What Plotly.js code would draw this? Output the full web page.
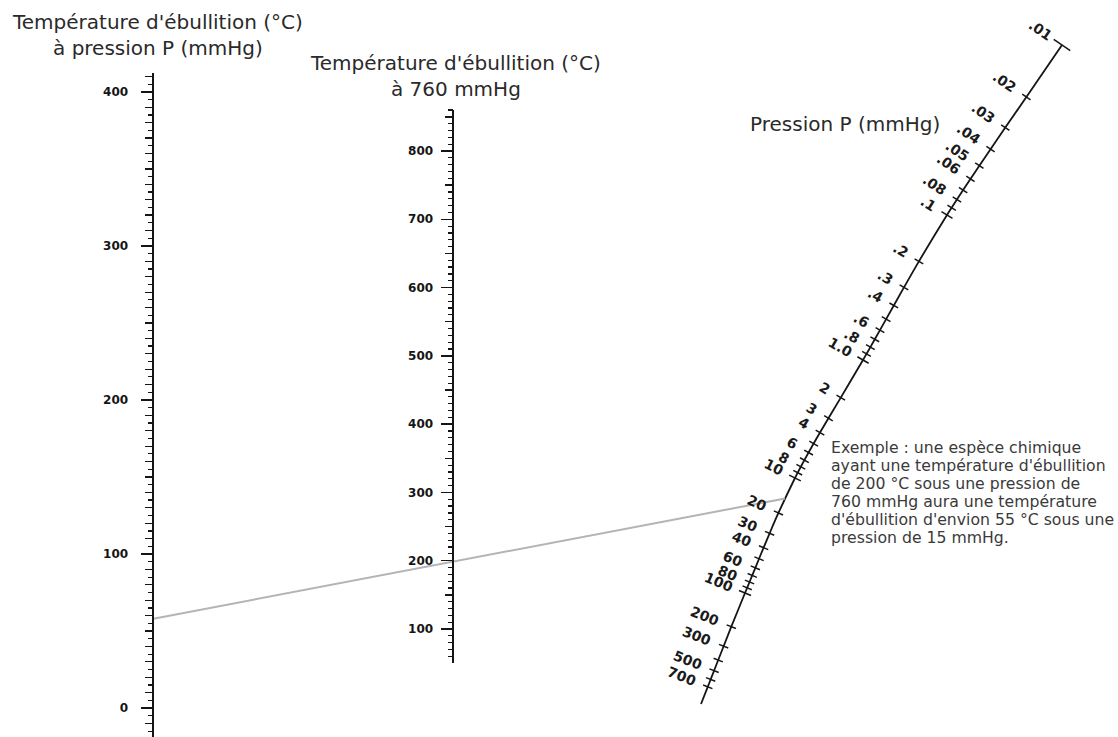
<!DOCTYPE html>
<html><head><meta charset="utf-8">
<script src="https://cdn.plot.ly/plotly-3.0.1.min.js"></script>
<style>html,body{margin:0;padding:0;background:#fff;}#chart{width:1118px;height:737px;}</style>
</head><body><div id="chart"></div>
<script>
// ---------------- DATA ----------------
const leftScaleLabels = [0, 100, 200, 300, 400];            // T at pressure P (°C)
const middleScaleLabels = [100, 200, 300, 400, 500, 600, 700, 800]; // T at 760 mmHg (°C)
const pressureTicks = [0.01,0.02,0.03,0.04,0.05,0.06,0.07,0.08,0.09,
  0.1,0.2,0.3,0.4,0.5,0.6,0.7,0.8,0.9,
  1,2,3,4,5,6,7,8,9,
  10,20,30,40,50,60,70,80,90,
  100,200,300,400,500,600,700];
const pressureDecades = [0.1, 1, 10, 100];
const pressureLabelValues = [0.01,0.02,0.03,0.04,0.05,0.06,0.08,0.1,0.2,0.3,0.4,0.6,0.8,1,2,3,4,6,8,10,20,30,40,60,80,100,200,300,500,700];
const pressureLabelTexts  = [".01",".02",".03",".04",".05",".06",".08",".1",".2",".3",".4",".6",".8","1.0","2","3","4","6","8","10","20","30","40","60","80","100","200","300","500","700"];
const exampleTempAtP = 58;      // °C read on left scale
const exampleTempAt760 = 200;   // °C on middle scale
const examplePressure = 15;     // mmHg
const titleLeft = "Température d'ébullition (°C)<br>à pression P (mmHg)";
const titleMiddle = "Température d'ébullition (°C)<br>à 760 mmHg";
const titlePressure = "Pression P (mmHg)";
const exampleLines = [
  "Exemple : une espèce chimique",
  "ayant une température d'ébullition",
  "de 200 °C sous une pression de",
  "760 mmHg aura une température",
  "d'ébullition d'envion 55 °C sous une",
  "pression de 15 mmHg."
];

// ---------------- GEOMETRY / STYLE ----------------
const W = 1118, H = 737;
const leftAxisX = 152.5, middleAxisX = 452.5;
const leftDomain = [0, 0.901], leftRange = [-18.8, 412.3];
const midDomain = [0.1004, 0.8507], midRange = [50.2, 860];
// pressure scale (curved, log): anchor geometry for log10(P) = -2..3
const PG = {logP: [-2, -1, 0, 1, 2, 3], x: [1062, 947, 863, 795, 745, 701], y: [45, 215, 360, 478, 593, 704]};
const pressureEnd = 1000;
const ink = '#151515';
const labelFont = {family: 'DejaVu Sans', size: 14, color: '#1a1a1a', weight: 'bold'};
const axisLabelFont = {family: 'DejaVu Sans', size: 12, color: '#151515', weight: 'bold'};
const titleFont = {family: 'DejaVu Sans', size: 20, color: '#2a2a2a'};
const noteFont = {family: 'DejaVu Sans', size: 15.7, color: '#3a3a3a'};

function axisPx(v, dom, rng) {
  const f = dom[0] + (v - rng[0]) / (rng[1] - rng[0]) * (dom[1] - dom[0]);
  return H - f * H;
}
function hermite(arr, L) {
  const k = PG.logP;
  let i = Math.min(Math.max(0, Math.floor(L - k[0])), k.length - 2);
  const t = L - k[i];
  const m = j => j === 0 ? arr[1] - arr[0] : (j === arr.length - 1 ? arr[j] - arr[j - 1] : (arr[j + 1] - arr[j - 1]) / 2);
  const p0 = arr[i], p1 = arr[i + 1], m0 = m(i), m1 = m(i + 1);
  const t2 = t * t, t3 = t2 * t;
  const val = (2*t3 - 3*t2 + 1)*p0 + (t3 - 2*t2 + t)*m0 + (-2*t3 + 3*t2)*p1 + (t3 - t2)*m1;
  const der = (6*t2 - 6*t)*p0 + (3*t2 - 4*t + 1)*m0 + (-6*t2 + 6*t)*p1 + (3*t2 - 2*t)*m1;
  return [val, der];
}
function pmap(P) {
  const L = Math.log10(P);
  const [x, dx] = hermite(PG.x, L);
  const [y, dy] = hermite(PG.y, L);
  const n = Math.hypot(dx, dy);
  return {x, y, ux: dx / n, uy: dy / n};
}

// ---------------- TRACES ----------------
const traces = [];
const lineVals = pressureTicks.concat([pressureEnd]);
traces.push({x: lineVals.map(v => pmap(v).x), y: lineVals.map(v => pmap(v).y), mode: 'lines',
  line: {color: ink, width: 1.8, shape: 'spline'}, hoverinfo: 'skip', xaxis: 'x', yaxis: 'y'});
const tx = [], ty = [];
pressureTicks.forEach((v, i) => {
  const p = pmap(v);
  const half = i === 0 ? 10 : (pressureDecades.includes(v) ? 6.5 : 5);
  const px = p.uy, py = -p.ux;
  tx.push(p.x - px * half, p.x + px * half, null);
  ty.push(p.y - py * half, p.y + py * half, null);
});
traces.push({x: tx, y: ty, mode: 'lines', line: {color: ink, width: 1.5}, hoverinfo: 'skip', xaxis: 'x', yaxis: 'y'});
const a = {x: leftAxisX + 1, y: axisPx(exampleTempAtP, leftDomain, leftRange)};
const b = pmap(examplePressure);
traces.push({x: [a.x, b.x], y: [a.y, b.y], mode: 'lines', line: {color: '#b4b4b4', width: 2},
  hoverinfo: 'skip', xaxis: 'x', yaxis: 'y'});
// invisible anchors for the vertical scales and their overlay tick axes
[['x2','y2',exampleTempAtP],['x2','y4',exampleTempAtP],['x2','y6',exampleTempAtP],
 ['x3','y3',exampleTempAt760],['x3','y5',exampleTempAt760],['x3','y7',exampleTempAt760]].forEach(s => {
  traces.push({x: [0.5], y: [s[2]], mode: 'markers', marker: {opacity: 0}, hoverinfo: 'skip', xaxis: s[0], yaxis: s[1]});
});

// ---------------- ANNOTATIONS ----------------
const ann = [];
pressureLabelValues.forEach((v, i) => {
  const p = pmap(v);
  const txt = pressureLabelTexts[i];
  let w = 0; for (const ch of txt) w += (ch === '.' ? 0.38 : 0.696) * labelFont.size;
  const off = 14 + w / 2;
  ann.push({x: p.x - p.uy * off, y: p.y + p.ux * off, xref: 'x', yref: 'y', text: txt, showarrow: false,
    textangle: Math.atan2(-p.ux, p.uy) * 180 / Math.PI, xanchor: 'center', yanchor: 'middle', font: labelFont});
});
ann.push({x: 157, y: 34.5, xref: 'x', yref: 'y', text: titleLeft, showarrow: false, font: titleFont, xanchor: 'center', yanchor: 'middle'});
ann.push({x: 455, y: 75.5, xref: 'x', yref: 'y', text: titleMiddle, showarrow: false, font: titleFont, xanchor: 'center', yanchor: 'middle'});
ann.push({x: 845, y: 124, xref: 'x', yref: 'y', text: titlePressure, showarrow: false, font: titleFont, xanchor: 'center', yanchor: 'middle'});
exampleLines.forEach((t, i) => {
  ann.push({x: 829, y: 447 + i * 18.1, xref: 'x', yref: 'y', text: t, showarrow: false, font: noteFont, xanchor: 'left', yanchor: 'middle', align: 'left'});
});

// ---------------- LAYOUT ----------------
const hidden = {visible: false, fixedrange: true, showgrid: false, zeroline: false};
function tickLayer(rng, pos, step, len, width) {
  return {range: rng, anchor: 'free', position: pos, side: 'left', showline: false, showgrid: false, zeroline: false, fixedrange: true,
    tickmode: 'linear', tick0: 0, dtick: step, ticks: 'outside', ticklen: len, tickwidth: width, tickcolor: ink, showticklabels: false};
}
function mainScale(dom, rng, pos, labels, standoff) {
  return {domain: dom, range: rng, anchor: 'free', position: pos, side: 'left',
    showline: true, linecolor: ink, linewidth: 2, showgrid: false, zeroline: false, fixedrange: true,
    tickmode: 'array', tickvals: labels, ticktext: labels.map(String), ticks: 'outside', ticklen: 11, tickwidth: 1.4, tickcolor: ink,
    ticklabelstandoff: standoff, tickfont: axisLabelFont};
}
const layout = {
  width: W, height: H, margin: {l: 0, r: 0, t: 0, b: 0, pad: 0},
  paper_bgcolor: '#fff', plot_bgcolor: 'rgba(0,0,0,0)', showlegend: false,
  xaxis: Object.assign({range: [0, W], domain: [0, 1]}, hidden),
  yaxis: Object.assign({range: [H, 0], domain: [0, 1]}, hidden),
  xaxis2: Object.assign({range: [0, 1], domain: [0, 1], anchor: 'y2'}, hidden),
  xaxis3: Object.assign({range: [0, 1], domain: [0, 1], anchor: 'y3'}, hidden),
  yaxis2: mainScale(leftDomain, leftRange, leftAxisX / W, leftScaleLabels, 10),
  yaxis4: Object.assign({overlaying: 'y2'}, tickLayer(leftRange, leftAxisX / W, 10, 8, 1.3)),
  yaxis6: Object.assign({overlaying: 'y2'}, tickLayer(leftRange, leftAxisX / W, 5, 5, 1.2)),
  yaxis3: mainScale(midDomain, midRange, middleAxisX / W, middleScaleLabels, 5),
  yaxis5: Object.assign({overlaying: 'y3'}, tickLayer(midRange, middleAxisX / W, 50, 8, 1.3)),
  yaxis7: Object.assign({overlaying: 'y3'}, tickLayer(midRange, middleAxisX / W, 10, 5, 1.2)),
  annotations: ann
};
Plotly.newPlot('chart', traces, layout, {displayModeBar: false, staticPlot: true});
</script></body></html>
